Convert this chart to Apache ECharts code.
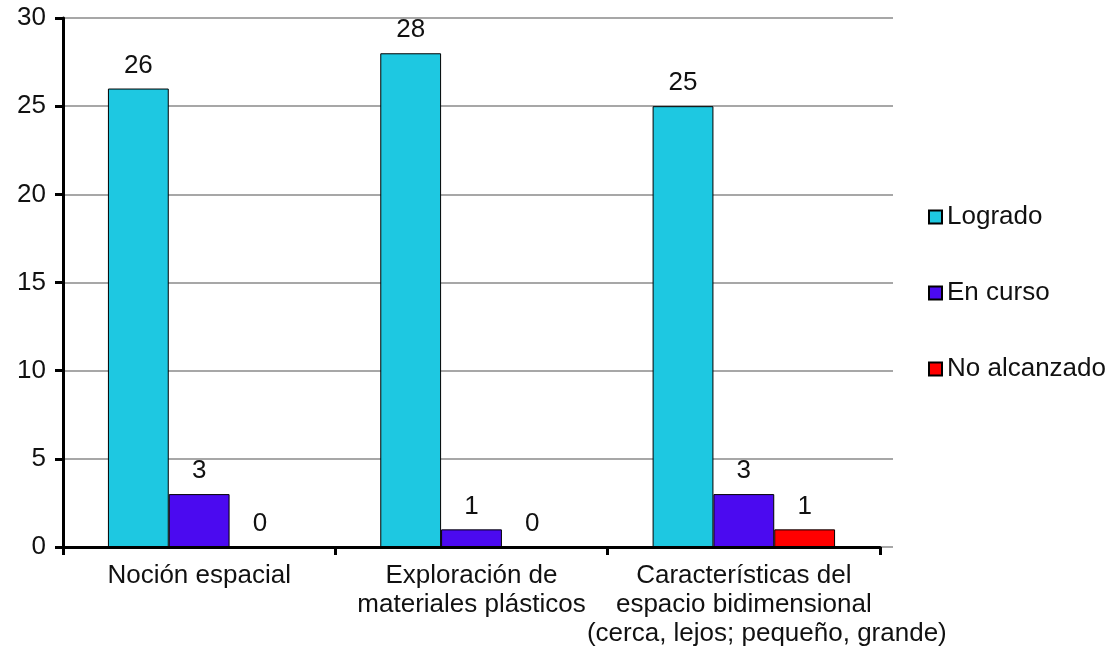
<!DOCTYPE html>
<html>
<head>
<meta charset="utf-8">
<script src="https://cdn.jsdelivr.net/npm/echarts@6/dist/echarts.min.js"></script>
<style>
  html, body { margin: 0; padding: 0; background: #fff; }
  #chart { width: 1112px; height: 656px; }
</style>
</head>
<body>
<div id="chart"></div>
<script>
// datos
var categorias = [
  'Noción espacial',
  'Exploración de\nmateriales plásticos',
  'Características del\nespacio bidimensional\n{sub|(cerca, lejos; pequeño, grande)}'
]
var logrado = [26, 28, 25]
var enCurso = [3, 1, 3]
var noAlcanzado = [0, 0, 1]
var yTicks = [0, 5, 10, 15, 20, 25, 30]

var fuente = '"Liberation Sans", Arial, sans-serif'
var colorTexto = '#111'
var tam = 26

function serie(name, data, color) {
  return {
    name: name,
    type: 'bar',
    data: data,
    barGap: '0%',
    barCategoryGap: '33%',
    itemStyle: {
      color: color,
      borderColor: '#000',
      borderWidth: 1
    },
    label: {
      show: true,
      position: 'top',
      distance: 10,
      fontFamily: fuente,
      fontSize: tam,
      color: colorTexto
    }
  }
}

var myChart = echarts.init(document.getElementById('chart'))
var option = {
  animation: false,
  backgroundColor: '#fff',
  grid: [
    // area principal
    { left: 63, right: 232, top: 18, bottom: 109, containLabel: false },
    // las lineas de la cuadricula pasan un poco mas alla del eje
    { left: 63, right: 219, top: 18, bottom: 109, containLabel: false }
  ],
  legend: {
    orient: 'vertical',
    left: 923,
    top: 199,
    icon: 'rect',
    itemWidth: 13,
    itemHeight: 13,
    itemGap: 50,
    textStyle: {
      fontFamily: fuente,
      fontSize: tam,
      lineHeight: 25,
      color: colorTexto
    },
    data: ['Logrado', 'En curso', 'No alcanzado']
  },
  xAxis: [
    {
      type: 'category',
      gridIndex: 0,
      data: categorias,
      axisLine: { show: true, lineStyle: { color: '#000', width: 3 } },
      axisTick: { show: true, length: 8, lineStyle: { color: '#000', width: 3 } },
      axisLabel: {
        margin: 14,
        fontFamily: fuente,
        fontSize: tam,
        lineHeight: 29,
        color: colorTexto,
        interval: 0,
        rich: {
          sub: {
            fontFamily: fuente,
            fontSize: tam,
            lineHeight: 29,
            color: colorTexto,
            padding: [0, 0, 0, 46]
          }
        }
      },
      z: 3
    },
    {
      type: 'category',
      gridIndex: 1,
      data: categorias,
      show: false
    }
  ],
  yAxis: [
    {
      type: 'value',
      gridIndex: 0,
      min: yTicks[0],
      max: yTicks[yTicks.length - 1],
      interval: 5,
      axisLine: { show: true, lineStyle: { color: '#000', width: 3 } },
      axisTick: { show: true, length: 8, lineStyle: { color: '#000', width: 3 } },
      axisLabel: {
        margin: 17,
        fontFamily: fuente,
        fontSize: tam,
        color: colorTexto
      },
      splitLine: { show: false },
      z: 3
    },
    {
      type: 'value',
      gridIndex: 1,
      min: yTicks[0],
      max: yTicks[yTicks.length - 1],
      interval: 5,
      axisLine: { show: false },
      axisTick: { show: false },
      axisLabel: { show: false },
      splitLine: { show: true, lineStyle: { color: '#8a8a8a', width: 1.5 } }
    }
  ],
  series: [
    serie('Logrado', logrado, '#1ec8e1'),
    serie('En curso', enCurso, '#4b0af0'),
    serie('No alcanzado', noAlcanzado, '#ff0000')
  ]
}
myChart.setOption(option)
</script>
</body>
</html>
